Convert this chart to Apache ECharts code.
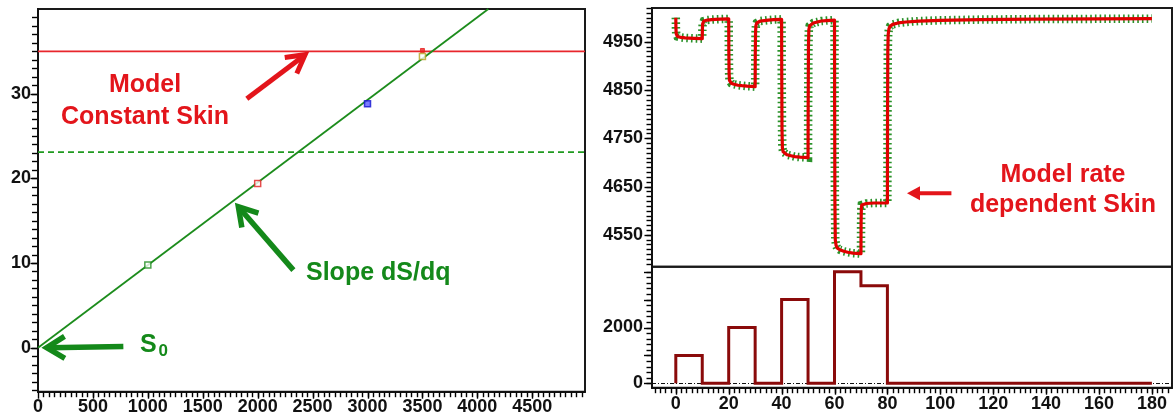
<!DOCTYPE html>
<html>
<head>
<meta charset="utf-8">
<script src="https://cdn.jsdelivr.net/npm/echarts@6/dist/echarts.min.js"></script>
<style>
  html, body { margin: 0; padding: 0; background: #ffffff; }
  #chart { width: 1174px; height: 419px; }
</style>
</head>
<body>
<div id="chart"></div>
<script>
// ---- Left panel: skin S against rate q ----
const fitQ = [0, 4100];              // straight-line fit S = S0 + dS/dq * q
const fitS = [0, 40];
const constantSkin = 35;             // constant-skin model level
const dashedSkin = 23.1;             // dashed reference level
const pointQ = [1000, 2000, 3000, 3500, 3500];
const pointS = [9.75, 19.4, 28.8, 35.1, 34.4];
const qTickLabels = [0, 500, 1000, 1500, 2000, 2500, 3000, 3500, 4000, 4500];
const sTickLabels = [0, 10, 20, 30];

// ---- Right panels: pressure and rate history against time ----
const time = [
  0, 0.05, 0.15, 0.3, 0.6, 1, 2, 3.5, 5, 7, 10,
  10.05, 10.15, 10.3, 10.6, 11, 12, 13.5, 15, 17, 20,
  20.05, 20.15, 20.3, 20.6, 21, 22, 23.5, 25, 27, 30,
  30.05, 30.15, 30.3, 30.6, 31, 32, 33.5, 35, 37, 40,
  40.05, 40.15, 40.3, 40.6, 41, 42, 43.5, 45, 47, 50,
  50.05, 50.15, 50.3, 50.6, 51, 52, 53.5, 55, 57, 60,
  60.05, 60.15, 60.3, 60.6, 61, 62, 63.5, 65, 67, 70,
  70.05, 70.15, 70.3, 70.6, 71, 72, 73.5, 75, 77, 80,
  80.05, 80.15, 80.3, 80.6, 81, 82, 84, 87, 92, 100, 115, 135, 160, 180
];
const pressure = [
  5000, 4978, 4967, 4963, 4961, 4960, 4959, 4958, 4957.5, 4957, 4956.5,
  4975, 4987, 4991, 4993, 4994, 4995, 4996, 4996.5, 4997, 4997.5,
  4930, 4885, 4870, 4866, 4864, 4862, 4860, 4859, 4858, 4857,
  4925, 4970, 4984, 4989, 4991, 4993, 4994, 4995, 4996, 4996.5,
  4890, 4770, 4730, 4722, 4719, 4716, 4714, 4712, 4711, 4710,
  4820, 4940, 4975, 4983, 4986, 4989, 4991, 4993, 4994, 4995,
  4820, 4620, 4540, 4528, 4523, 4519, 4516, 4514, 4512, 4511,
  4575, 4605, 4612, 4614, 4615, 4615, 4615.5, 4616, 4616, 4616,
  4800, 4930, 4965, 4977, 4982, 4986, 4989, 4991, 4993, 4994.5, 4996, 4997, 4997.5, 4998
];
const rateTime = [0, 0, 10, 20, 30, 40, 50, 60, 70, 80, 180];
const rate     = [0, 1000, 0, 2000, 0, 3000, 0, 4000, 3500, 0, 0];
const tTickLabels = [0, 20, 40, 60, 80, 100, 120, 140, 160, 180];
const pTickLabels = [4550, 4650, 4750, 4850, 4950];
const rateTickLabels = [0, 2000];

// tick positions between labelled values
function steps(a, b, s) {
  const out = [];
  for (let v = a; v <= b + 1e-9; v += s) out.push(+v.toFixed(6));
  return out;
}

const zip = (xs, ys) => xs.map((x, i) => [x, ys[i]]);

const FONT = '"Liberation Sans", Arial, sans-serif';
const INK = '#111111';
const RED = '#e3151b';
const GREEN = '#14891a';

const labelStyle = {
  fontFamily: FONT, fontWeight: 'bold', fontSize: 18, color: INK,
  formatter: (v) => String(v)
};

// extents of each axis
const qMin = 0, qMax = 4980;
const sMin = -5.2, sMax = 40;
const tMin = -9, tMax = 187.6;
const pMin = 4484, pMax = 5020;
const rMin = -158, rMax = 4180;

// annotation arrows (tail x, tail y, tip x, tip y) in data units
const leftArrows = [
  [1901, 29.4, 2432, 34.6],
  [2325, 9.16, 1824, 16.65],
  [777, 0.15, 79, 0.0]
];
const leftArrowStyles = [
  { color: RED, width: 5, head: 'open', len: 18, half: 10 },
  { color: GREEN, width: 5.5, head: 'open', len: 18, half: 11 },
  { color: GREEN, width: 5.5, head: 'open', len: 18, half: 11 }
];
const rightArrows = [[104.2, 4636, 87.4, 4636]];
const rightArrowStyles = [{ color: RED, width: 4, head: 'solid', len: 13, half: 7 }];

function arrowRenderer(styles) {
  return function (params, api) {
    const st = styles[params.dataIndex];
    const p1 = api.coord([api.value(0), api.value(1)]);
    const p2 = api.coord([api.value(2), api.value(3)]);
    const dx = p2[0] - p1[0], dy = p2[1] - p1[1];
    const len = Math.hypot(dx, dy);
    const ux = dx / len, uy = dy / len, nx = -uy, ny = ux;
    const bx = p2[0] - ux * st.len, by = p2[1] - uy * st.len;
    const a1 = [bx + nx * st.half, by + ny * st.half];
    const a2 = [bx - nx * st.half, by - ny * st.half];
    const children = [];
    if (st.head === 'solid') {
      children.push({ type: 'line', shape: { x1: p1[0], y1: p1[1], x2: bx + ux, y2: by + uy },
        style: { stroke: st.color, lineWidth: st.width, lineCap: 'butt' } });
      children.push({ type: 'polygon', shape: { points: [p2, a1, a2] }, style: { fill: st.color } });
    } else {
      children.push({ type: 'line', shape: { x1: p1[0], y1: p1[1], x2: p2[0] - ux * 2, y2: p2[1] - uy * 2 },
        style: { stroke: st.color, lineWidth: st.width, lineCap: 'butt' } });
      children.push({ type: 'polyline', shape: { points: [a1, p2, a2] },
        style: { stroke: st.color, lineWidth: st.width, fill: null, lineJoin: 'miter', lineCap: 'butt' } });
    }
    return { type: 'group', children: children };
  };
}

// marker styles for the skin points
const pointStyles = [
  { color: '#ffffff', borderColor: '#1e8c1e', borderWidth: 1.5, size: [6, 6] },
  { color: '#ffffff', borderColor: '#e02020', borderWidth: 1.5, size: [6, 6] },
  { color: '#5a5aff', borderColor: '#1414d0', borderWidth: 1.5, size: [6, 6] },
  { color: '#e82020', borderColor: '#e82020', borderWidth: 1, size: [4, 4] },
  { color: '#ffffff', borderColor: '#b5a21e', borderWidth: 1.5, size: [6, 6] }
];

const gridBorder = { show: true, borderColor: '#1a1a1a', borderWidth: 2, backgroundColor: 'transparent' };

const chart = echarts.init(document.getElementById('chart'), null, { renderer: 'canvas' });

chart.setOption({
  animation: false,
  backgroundColor: '#ffffff',
  grid: [
    Object.assign({ left: 38, top: 9, width: 547, height: 382.7 }, gridBorder),
    Object.assign({ left: 652, top: 8, width: 520, height: 258.7 }, gridBorder),
    Object.assign({ left: 652, top: 266.7, width: 520, height: 121 }, gridBorder)
  ],
  xAxis: [
    {
      type: 'value', gridIndex: 0, min: qMin, max: qMax, position: 'bottom',
      axisLine: { show: true, onZero: false, lineStyle: { color: INK, width: 2 } },
      axisTick: { show: false },
      axisLabel: Object.assign({ margin: 6, customValues: qTickLabels }, labelStyle),
      splitLine: { show: false }
    },
    {
      type: 'value', gridIndex: 1, min: tMin, max: tMax,
      axisLine: { show: false }, axisTick: { show: false }, axisLabel: { show: false }, splitLine: { show: false }
    },
    {
      type: 'value', gridIndex: 2, min: tMin, max: tMax, position: 'bottom',
      axisLine: { show: true, onZero: false, lineStyle: { color: INK, width: 2 } },
      axisTick: { show: false },
      axisLabel: Object.assign({ margin: 7, customValues: tTickLabels }, labelStyle),
      splitLine: { show: false }
    }
  ],
  yAxis: [
    {
      type: 'value', gridIndex: 0, min: sMin, max: sMax, position: 'left',
      axisLine: { show: true, onZero: false, lineStyle: { color: INK, width: 2 } },
      axisTick: { show: false },
      axisLabel: Object.assign({ margin: 7, customValues: sTickLabels }, labelStyle),
      splitLine: { show: false }
    },
    {
      type: 'value', gridIndex: 1, min: pMin, max: pMax, position: 'left',
      axisLine: { show: true, onZero: false, lineStyle: { color: INK, width: 2 } },
      axisTick: { show: false },
      axisLabel: Object.assign({ margin: 9, customValues: pTickLabels }, labelStyle),
      splitLine: { show: false }
    },
    {
      type: 'value', gridIndex: 2, min: rMin, max: rMax, position: 'left',
      axisLine: { show: true, onZero: false, lineStyle: { color: INK, width: 2 } },
      axisTick: { show: false },
      axisLabel: Object.assign({ margin: 9, customValues: rateTickLabels }, labelStyle),
      splitLine: { show: false }
    }
  ],
  series: [
    {
      name: 'dashed level', type: 'line', xAxisIndex: 0, yAxisIndex: 0,
      data: [[qMin, dashedSkin], [qMax, dashedSkin]], showSymbol: false, silent: true,
      lineStyle: { color: '#1f9a1f', width: 1.8, type: [6, 4] }, z: 2
    },
    {
      name: 'Constant skin', type: 'line', xAxisIndex: 0, yAxisIndex: 0,
      data: [[qMin, constantSkin], [qMax, constantSkin]], showSymbol: false, silent: true,
      lineStyle: { color: '#e8262c', width: 1.8 }, z: 3
    },
    {
      name: 'Skin fit', type: 'line', xAxisIndex: 0, yAxisIndex: 0,
      data: zip(fitQ, fitS), showSymbol: false, silent: true,
      lineStyle: { color: '#1c8c1c', width: 1.8 }, z: 4
    },
    {
      name: 'Skin points', type: 'scatter', xAxisIndex: 0, yAxisIndex: 0,
      data: pointQ.map((q, i) => ({
        value: [q, pointS[i]],
        symbolSize: pointStyles[i].size,
        itemStyle: { color: pointStyles[i].color, borderColor: pointStyles[i].borderColor, borderWidth: pointStyles[i].borderWidth }
      })),
      symbol: 'rect', silent: true, z: 6
    },
    {
      name: 'left arrows', type: 'custom', xAxisIndex: 0, yAxisIndex: 0,
      data: leftArrows, encode: { x: [0, 2], y: [1, 3] }, clip: false, silent: true, z: 7,
      renderItem: arrowRenderer(leftArrowStyles)
    },
    {
      name: 'Pressure samples', type: 'line', xAxisIndex: 1, yAxisIndex: 1,
      data: zip(time, pressure), showSymbol: false, silent: true,
      lineStyle: { color: '#2a922a', width: 8.5, type: [1.6, 3.1], cap: 'butt', join: 'miter' }, z: 2
    },
    {
      name: 'Pressure model', type: 'line', xAxisIndex: 1, yAxisIndex: 1,
      data: zip(time, pressure), showSymbol: false, silent: true,
      lineStyle: { color: '#e00000', width: 3.2, join: 'round' }, z: 3
    },
    {
      name: 'right arrow', type: 'custom', xAxisIndex: 1, yAxisIndex: 1,
      data: rightArrows, encode: { x: [0, 2], y: [1, 3] }, clip: false, silent: true, z: 7,
      renderItem: arrowRenderer(rightArrowStyles)
    },
    {
      name: 'Rate', type: 'line', xAxisIndex: 2, yAxisIndex: 2, step: 'end',
      data: zip(rateTime, rate), showSymbol: false, silent: true,
      lineStyle: { color: '#8a0a0a', width: 3, join: 'miter' }, z: 4,
      markLine: {
        silent: true, symbol: ['none', 'none'], label: { show: false },
        lineStyle: { color: '#111', width: 1, type: [4, 2, 1, 2] },
        data: [{ yAxis: 0 }], z: 2
      }
    }
  ]
});

// text annotations
const textElements = [
  {
    type: 'text', x: 145, y: 101, z: 10,
    style: { text: 'Model\nConstant Skin', fill: RED, font: 'bold 25px ' + FONT,
      textAlign: 'center', textVerticalAlign: 'middle', lineHeight: 32 }
  },
  {
    type: 'text', x: 306, y: 273, z: 10,
    style: { text: 'Slope dS/dq', fill: GREEN, font: 'bold 25px ' + FONT,
      textAlign: 'left', textVerticalAlign: 'middle' }
  },
  {
    type: 'text', x: 140, y: 345, z: 10,
    style: { text: 'S', fill: GREEN, font: 'bold 25px ' + FONT, textAlign: 'left', textVerticalAlign: 'middle' }
  },
  {
    type: 'text', x: 158.5, y: 351, z: 10,
    style: { text: '0', fill: GREEN, font: 'bold 17px ' + FONT, textAlign: 'left', textVerticalAlign: 'middle' }
  },
  {
    type: 'text', x: 1063, y: 190, z: 10,
    style: { text: 'Model rate\ndependent Skin', fill: RED, font: 'bold 25px ' + FONT,
      textAlign: 'center', textVerticalAlign: 'middle', lineHeight: 30 }
  }
];

// outward ticks on the axes, positioned through each axis scale
const tickElements = [];
function addYTicks(xAxisIndex, yAxisIndex, xAt, values, length) {
  values.forEach((v) => {
    const p = chart.convertToPixel({ xAxisIndex: xAxisIndex, yAxisIndex: yAxisIndex }, [xAt, v]);
    const y = Math.round(p[1]) + 0.5;
    tickElements.push({
      type: 'rect', z: 20, silent: true,
      shape: { x: p[0] - 1.5 - length, y: y - 0.7, width: length + 0.5, height: 1.4 },
      style: { fill: '#000000' }
    });
  });
}
function addXTicks(xAxisIndex, yAxisIndex, yAt, values, length) {
  values.forEach((v) => {
    const p = chart.convertToPixel({ xAxisIndex: xAxisIndex, yAxisIndex: yAxisIndex }, [v, yAt]);
    const x = Math.round(p[0]) + 0.5;
    tickElements.push({
      type: 'rect', z: 20, silent: true,
      shape: { x: x - 0.7, y: p[1] + 1, width: 1.4, height: length + 0.5 },
      style: { fill: '#000000' }
    });
  });
}
addYTicks(0, 0, qMin, steps(-5, 39, 1), 4.5);
addYTicks(0, 0, qMin, sTickLabels, 6);
addYTicks(1, 1, tMin, steps(4490, 5020, 10), 4);
addYTicks(1, 1, tMin, pTickLabels, 6);
addYTicks(2, 2, tMin, steps(0, 4000, 200), 4);
addYTicks(2, 2, tMin, steps(0, 4000, 1000), 6.5);
addXTicks(0, 0, sMin, steps(50, 4950, 50), 4);
addXTicks(0, 0, sMin, qTickLabels, 5.5);
addXTicks(2, 2, rMin, steps(-8, 186, 2), 4);
addXTicks(2, 2, rMin, tTickLabels, 5.5);

chart.setOption({ graphic: { elements: textElements.concat(tickElements) } });
</script>
</body>
</html>
